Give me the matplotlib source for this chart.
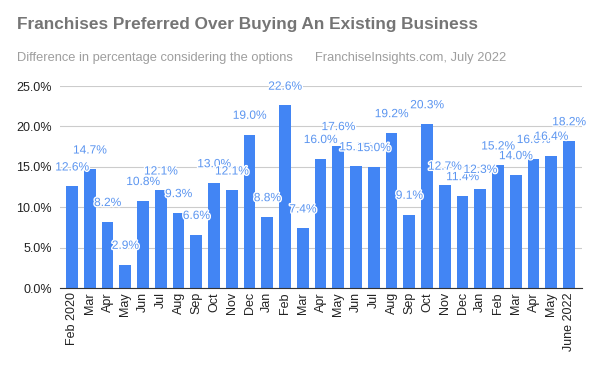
import matplotlib.pyplot as plt
import matplotlib.patheffects as pe
from matplotlib.ticker import FuncFormatter

plt.rcParams['font.family'] = ['Liberation Sans', 'DejaVu Sans']

months = ['Feb 2020', 'Mar', 'Apr', 'May', 'Jun', 'Jul', 'Aug', 'Sep', 'Oct', 'Nov', 'Dec',
          'Jan', 'Feb', 'Mar', 'Apr', 'May', 'Jun', 'Jul', 'Aug', 'Sep', 'Oct', 'Nov', 'Dec',
          'Jan', 'Feb', 'Mar', 'Apr', 'May', 'June 2022']
values = [12.6, 14.7, 8.2, 2.9, 10.8, 12.1, 9.3, 6.6, 13.0, 12.1, 19.0,
          8.8, 22.6, 7.4, 16.0, 17.6, 15.1, 15.0, 19.2, 9.1, 20.3, 12.7, 11.4,
          12.3, 15.2, 14.0, 16.0, 16.4, 18.2]
yticks = [0, 5, 10, 15, 20, 25]

bar_color = '#4285f4'
label_color = '#5b95f0'

fig = plt.figure(figsize=(6, 3.71), dpi=100)
ax = fig.add_axes([0.1, 0.2237, 0.87, 0.5443])

x = list(range(len(values)))
ax.bar(x, values, width=0.66, color=bar_color, zorder=2)

# value labels above each bar, white halo like the sheets chart
for xi, v in zip(x, values):
    ax.annotate(f'{v:.1f}%', (xi, v), xytext=(0, 13.5), textcoords='offset points',
                ha='center', va='center', fontsize=8.6, color=label_color, zorder=3,
                path_effects=[pe.withStroke(linewidth=2, foreground='white')])

ax.set_xlim(-0.68, 28.73)
ax.set_ylim(0, 25)
ax.set_yticks(yticks)
ax.yaxis.set_major_formatter(FuncFormatter(lambda v, p: f'{v:.1f}%'))
ax.set_xticks(x)
ax.set_xticklabels(months, rotation=90, fontsize=9, color='#222222')
ax.tick_params(axis='y', labelsize=9, colors='#222222', length=0, pad=6)
ax.tick_params(axis='x', length=0, pad=3)
ax.grid(axis='y', color='#cccccc', linewidth=0.8, zorder=0)
for s in ['top', 'right', 'left']:
    ax.spines[s].set_visible(False)
ax.spines['bottom'].set_color('#333333')
ax.spines['bottom'].set_zorder(4)

fig.text(0.028, 0.935, 'Franchises Preferred Over Buying An Existing Business',
         fontsize=12.4, fontweight='bold', color='#757575', va='center')
fig.text(0.028, 0.843, 'Difference in percentage considering the options',
         fontsize=9.3, color='#9e9e9e', va='center')
fig.text(0.525, 0.843, 'FranchiseInsights.com, July 2022',
         fontsize=9.3, color='#9e9e9e', va='center')

fig.savefig('out.png', dpi=100, facecolor='white')
